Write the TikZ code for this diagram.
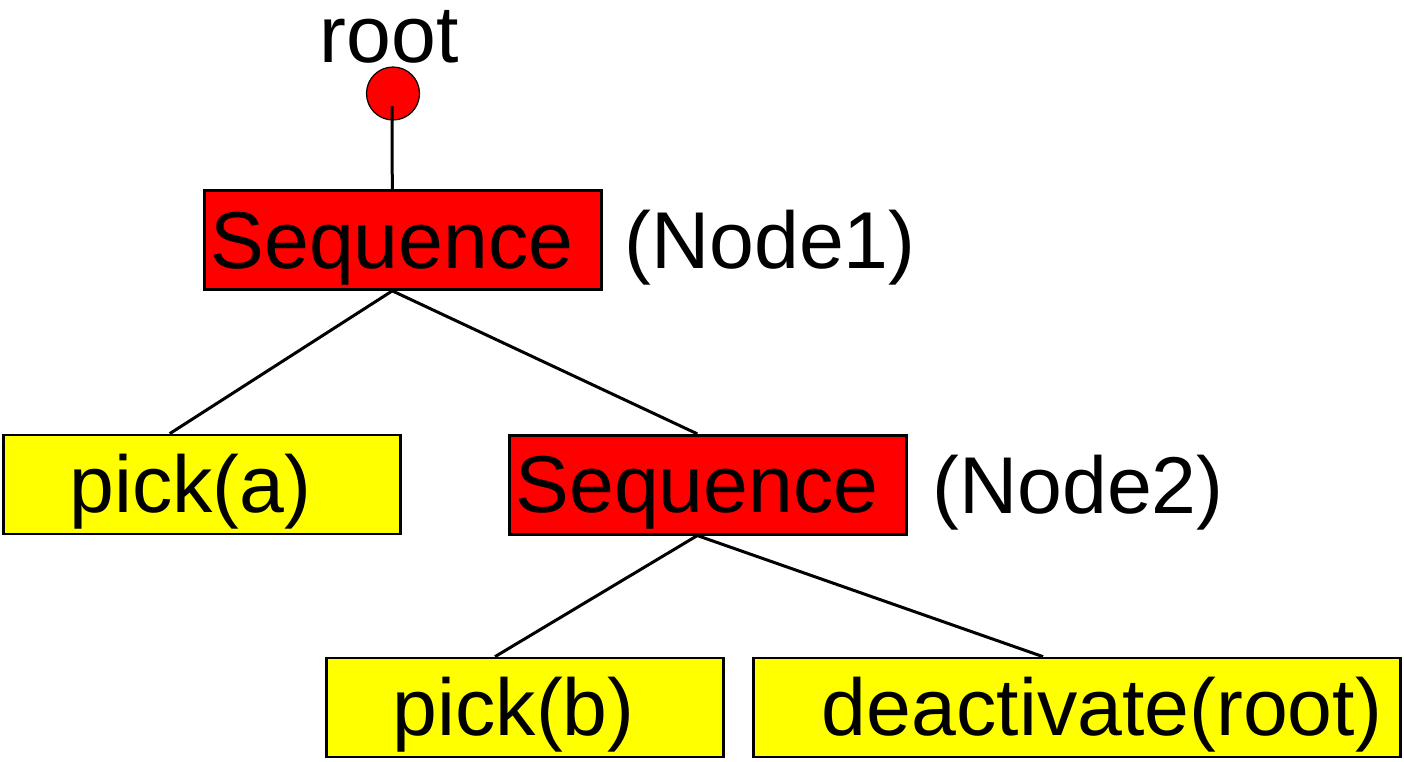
\documentclass[tikz,border=0pt]{standalone}
\usepackage{fontspec}
\setmainfont{Liberation Sans}
\usepackage{tikz}
\usetikzlibrary{calc}
\definecolor{seqred}{HTML}{FF0000}
\definecolor{leafyellow}{HTML}{FFFF00}

\begin{document}
\begin{tikzpicture}[x=0.5pt,y=0.5pt,
  txt/.style={font=\fontsize{40.3}{48}\selectfont,text height=36pt,text depth=8pt,inner sep=2pt},
  seqbox/.style={txt,draw,line width=1.35pt,fill=seqred,minimum width=198.5pt,minimum height=49.5pt},
  leafbox/.style={seqbox,fill=leafyellow},
  edge/.style={line width=1.5pt}]
\useasboundingbox (0,0) rectangle (1404,-761);
\node[txt,text height=28pt,inner sep=0pt] (rootlbl) at (389,-42) {root};
\node[circle,draw,line width=0.6pt,fill=seqred,minimum size=26.5pt,inner sep=0pt] (rootdot) at (393,-93.5) {};
\node[seqbox] (seq1) at (403.3,-240) {Sequence\kern.28em};
\node[txt] (node1) at (770,-240) {(Node1)};
\node[leafbox] (picka) at (201.7,-484.5) {pick(a)\kern.28em};
\node[seqbox] (seq2) at (708.3,-484.7) {Sequence\kern.28em};
\node[txt] (node2) at (1078,-485) {(Node2)};
\node[leafbox] (pickb) at (525,-707.5) {pick(b)\kern.28em};
\node[leafbox,minimum width=323.5pt] (deact) at (1077,-707.5) {\kern.62em deactivate(root)};
\draw[edge] ($(rootdot.center)+(-1,-12.5)$) -- ($(seq1.north)+(-11,0)$);
\draw[edge] ($(seq1.south)+(-11,0)$) -- ($(picka.north)+(-32,0)$);
\draw[edge] ($(seq1.south)+(-11,0)$) -- ($(seq2.north)+(-11,0)$);
\draw[edge] ($(seq2.south)+(-11,0)$) -- ($(pickb.north)+(-30,0)$);
\draw[edge] ($(seq2.south)+(-11,0)$) -- ($(deact.north)+(-34,0)$);
\end{tikzpicture}
\end{document}
